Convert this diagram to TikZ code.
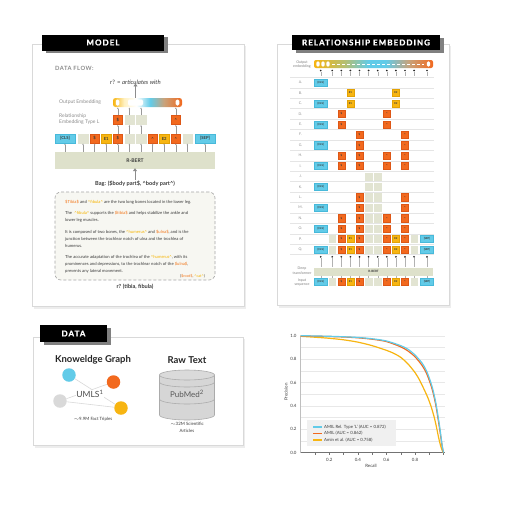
\documentclass[tikz,border=0pt]{standalone}
\usepackage{fontspec}
\setmainfont{Lato}
\usetikzlibrary{arrows.meta,calc}

% palette
\definecolor{cCyan}{HTML}{62CBE8}
\definecolor{cCyanD}{HTML}{47B9DA}
\definecolor{cOrange}{HTML}{F2691E}
\definecolor{cOrangeD}{HTML}{DD5716}
\definecolor{cYellow}{HTML}{F7B512}
\definecolor{cYellowD}{HTML}{E3A205}
\definecolor{cSage}{HTML}{E2E4D2}
\definecolor{cBert}{HTML}{DEE1CB}
\definecolor{cTxt}{HTML}{3A3A3A}
\definecolor{cMuted}{HTML}{8C8C8C}
\definecolor{cFrame}{HTML}{D9D9D9}
\definecolor{cShadow}{HTML}{EDEDED}
\definecolor{cBag}{HTML}{F7F7F2}
\definecolor{cEntO}{HTML}{F2781E}
\definecolor{cEntY}{HTML}{F6B300}
\definecolor{cTan}{HTML}{C9A27A}
\definecolor{cPale}{HTML}{FFF1C2}
\definecolor{cDB}{HTML}{D6D6D6}
\definecolor{cDBd}{HTML}{ABABAB}
\definecolor{cLegend}{HTML}{F0F0F0}
\definecolor{cGrid}{HTML}{E8E8E8}

% embedding bars
\pgfdeclarehorizontalshading{embmodel}{100bp}{color(0bp)=(cYellow); color(25bp)=(cYellow); color(33bp)=(cPale); color(42bp)=(white); color(52bp)=(cCyan); color(62bp)=(cTan); color(75bp)=(cOrange); color(100bp)=(cOrange)}
\pgfdeclarehorizontalshading{embgrid}{100bp}{color(0bp)=(cYellow); color(25bp)=(cYellow); color(38bp)=(cYellow!55!cCyan); color(48bp)=(cCyan); color(55bp)=(cCyan); color(65bp)=(cTan); color(75bp)=(cOrange); color(100bp)=(cOrange)}

% token captions
\def\txtc{[CLS]}
\def\txts{[SEP]}
\def\txtd{\$}
\def\txth{\textasciicircum}
\def\txte{E1}
\def\txtf{E2}
\def\txtg{}

% marked entities in the bag sentences
\newcommand\entO[1]{\textcolor{cEntO}{\$#1\$}}
\newcommand\entY[1]{\textcolor{cEntY}{\textasciicircum#1\textasciicircum}}

\tikzset{
  panel/.style={draw=cFrame, line width=0.9pt, fill=white},
  panelshadow/.style={fill=cShadow},
  tabshadow/.style={fill=black!50},
  tabbox/.style={fill=black, text=white, inner sep=0pt,
    font=\fontsize{8}{8}\selectfont\bfseries\addfontfeatures{LetterSpace=13,FakeBold=1.3}},
  col-c/.style={fill=cCyan, draw=cCyanD},
  col-s/.style={fill=cCyan, draw=cCyanD},
  col-d/.style={fill=cOrange, draw=cOrangeD},
  col-h/.style={fill=cOrange, draw=cOrangeD},
  col-e/.style={fill=cYellow, draw=cYellowD},
  col-f/.style={fill=cYellow, draw=cYellowD},
  col-g/.style={fill=cSage, draw=cSage},
  tok/.style={draw, line width=0.35pt, minimum width=9.4pt, minimum height=9pt,
    inner sep=0pt, text=cTxt, font=\fontsize{4.2}{4.2}\selectfont\bfseries},
  tok-c/.style={tok, col-c, minimum width=20pt},
  tok-s/.style={tok, col-s, minimum width=20pt},
  tok-d/.style={tok, col-d}, tok-h/.style={tok, col-h},
  tok-e/.style={tok, col-e}, tok-f/.style={tok, col-f},
  tok-g/.style={tok, col-g},
  gtok/.style={draw, line width=0.3pt, minimum width=6.8pt, minimum height=7.2pt,
    inner sep=0pt, text=cTxt, font=\fontsize{2.7}{2.7}\selectfont\bfseries},
  gtok-c/.style={gtok, col-c, minimum width=13pt},
  gtok-s/.style={gtok, col-s, minimum width=13pt},
  gtok-d/.style={gtok, col-d}, gtok-h/.style={gtok, col-h},
  gtok-e/.style={gtok, col-e}, gtok-f/.style={gtok, col-f},
  gtok-g/.style={gtok, col-g},
  flow/.style={draw=black!40, line width=0.3pt, shorten >=0.4pt,
    -{Stealth[length=1.5pt,width=1.5pt]}},
  bigflow/.style={draw=black!45, line width=0.9pt,
    -{Triangle[length=3pt,width=4pt]}},
  sidelab/.style={text=cMuted, inner sep=0pt, font=\fontsize{5}{6.5}\selectfont},
  bodytxt/.style={anchor=west, inner sep=0pt, text=cTxt, font=\fontsize{4.2}{4.2}\selectfont},
  boldlab/.style={inner sep=0pt, text=cTxt, font=\fontsize{5.6}{5.6}\selectfont\bfseries},
  bertbox/.style={fill=cBert, draw=none, text=cTxt, inner sep=0pt},
  pill/.style={fill=white, draw=none, rounded corners=1.4pt, minimum height=6pt, inner sep=0pt},
  rowlab/.style={text=black!45, inner sep=0pt, font=\fontsize{3.6}{3.6}\selectfont},
  gridlab/.style={text=black!50, inner sep=0pt, align=center, font=\fontsize{3.6}{4.3}\selectfont},
  sepline/.style={draw=black!10, line width=0.35pt},
  dotnode/.style={circle, fill=black!85, inner sep=0pt, minimum size=1.9pt},
  stem/.style={draw=black!30, line width=0.3pt},
  kgnode/.style={circle, draw=none, minimum size=13.5pt, inner sep=0pt},
  kgedge/.style={draw=black!15, line width=0.6pt},
  datatitle/.style={inner sep=0pt, text=black!85, font=\fontsize{9.5}{9.5}\selectfont\bfseries},
  datanote/.style={inner sep=0pt, text=cTxt, align=center, font=\fontsize{4.4}{6.5}\selectfont},
  axlab/.style={inner sep=0pt, text=cTxt, font=\fontsize{4.4}{4.4}\selectfont},
  legtxt/.style={anchor=west, inner sep=0pt, text=cTxt, font=\fontsize{4.3}{4.3}\selectfont},
}

\begin{document}
\begin{tikzpicture}[x=1pt,y=-1pt]
\path[use as bounding box, fill=white] (0,0) rectangle (512,512);

%================ MODEL panel ================
\fill[panelshadow] (34,46) rectangle (246,308.5);
\draw[panel] (32,44) rectangle (244,306);
\fill[tabshadow] (45.5,37) rectangle (167.5,53);
\node[tabbox, minimum width=122pt, minimum height=16pt] (tabM) at (103,42.5) {MODEL};

\node[anchor=west, inner sep=0pt, text=black!45,
  font=\fontsize{5.8}{5.8}\selectfont\bfseries\addfontfeatures{LetterSpace=8}] (dflow) at (55,68) {DATA FLOW:};
\node[inner sep=0pt, text=cTxt, font=\fontsize{6}{6}\selectfont] (rq) at (135.5,82) {r? = \textit{articulates with}};

% output embedding bar
\node[shading=embmodel, rounded corners=2.5pt, minimum width=69pt, minimum height=9pt, inner sep=0pt] (outbar) at (147.5,102.5) {};
\node[pill, minimum width=3.6pt] (pm1) at (117.6,102.5) {};
\node[pill, minimum width=15pt] (pm2) at (135.5,102.5) {};
\node[pill, minimum width=3.6pt] (pm3) at (177.5,102.5) {};
\draw[bigflow] (rq.south |- outbar.north) -- ([yshift=1pt]rq.south);

\node[sidelab, anchor=west] (oelab) at (59,102.5) {Output Embedding};
\node[sidelab, anchor=west, align=left] (rellab) at (59,119.3) {Relationship\\Embedding Type L};

% relationship embedding row
\node[tok-d] (rl1) at (117.8,120) {\$};
\node[tok-g] (rl2) at (129.4,120) {};
\node[tok-g] (rl3) at (141,120) {};
\node[tok-h] (rl4) at (175.8,120) {\textasciicircum};

% input tokens
\foreach \i/\x/\t in {1/65/c,2/83/g,3/94.6/d,4/106.2/e,5/117.8/d,6/129.4/g,7/141/g,8/152.6/h,9/164.2/f,10/175.8/h,11/187.4/g,12/205/s}{
  \node[tok-\t] (in\i) at (\x,138.5) {\csname txt\t\endcsname};
}

% encoder
\node[bertbox, minimum width=160pt, minimum height=17pt, font=\fontsize{5}{5}\selectfont\bfseries] (bert) at (135,160.5) {R-BERT};
\foreach \i in {1,...,12}{
  \draw[flow] (in\i.south |- bert.north) -- (in\i.south);
}
\foreach \a/\b in {5/1,6/2,7/3,10/4}{
  \draw[flow] (in\a.north) -- (rl\b.south);
  \draw[flow] (rl\b.north) -- (rl\b.north |- outbar.south);
}

% bag of sentences
\node[boldlab] (bagt) at (135,183.5) {Bag: (\$body part\$, \textasciicircum body part\textasciicircum)};
\draw[bigflow] (bagt.north) -- ([yshift=1pt]bert.south);
\node[draw=black!35, dashed, dash pattern=on 3pt off 2pt, line width=0.6pt, rounded corners=6pt,
  fill=cBag, minimum width=160pt, minimum height=88pt] (bag) at (135,236) {};
\node[bodytxt] (s1) at (65,202) {\entO{Tibia} and \entY{fibula} are the two long bones located in the lower leg.};
\node[bodytxt] (s2) at (65,213) {The \ \entY{fibula} supports the \entO{tibia} and helps stabilize the ankle and};
\node[bodytxt] (s3) at (65,220) {lower leg muscles.};
\node[bodytxt] (s4) at (65,232) {It is composed of two bones, the \entY{humerus} and \entO{ulna}, and is the};
\node[bodytxt] (s5) at (65,239) {junction between the trochlear notch of ulna and the trochlea of};
\node[bodytxt] (s6) at (65,246) {humerus.};
\node[bodytxt] (s7) at (65,257.5) {The accurate adaptation of the trochlea of the \entY{humerus}, with its};
\node[bodytxt] (s8) at (65,264.5) {prominences and depressions, to the trochlear notch of the \entO{ulna},};
\node[bodytxt] (s9) at (65,271.5) {prevents any lateral movement.};
\node[bodytxt, anchor=east, font=\fontsize{3.8}{3.8}\selectfont] (s10) at (205,276.5) {(\entO{root}, \entY{cat})};
\node[boldlab] (rans) at (135,286.5) {r? (tibia, fibula)};

%================ RELATIONSHIP EMBEDDING panel ================
\fill[panelshadow] (279,46) rectangle (451,307.5);
\draw[panel] (277,44) rectangle (449,305);
\fill[tabshadow] (295.5,37.5) rectangle (443.5,53);
\node[tabbox, minimum width=148pt, minimum height=15.5pt] (tabR) at (366,42.5) {RELATIONSHIP EMBEDDING};

\def\colx{{320.7,332.2,341.3,350.4,359.5,368.6,377.7,386.8,395.9,405.0,414.1,427.0}}

\node[gridlab] (oelabg) at (302,64.3) {Output\\embedding};
\node[shading=embgrid, rounded corners=2pt, minimum width=119pt, minimum height=8pt, inner sep=0pt] (gbar) at (373.5,64) {};
\draw[white, line width=0.7pt, dash pattern=on 3pt off 2pt] (gbar.center -| 332,0) -- (gbar.center -| 424,0);
\foreach \x/\w [count=\k] in {318/3.4,323/3.4,328/3.4,428.5/3.4}{
  \node[pill, minimum width=\w pt, minimum height=5.2pt] (gp\k) at (\x,64) {};
}

% column ticks under the embedding
\foreach \c in {1,...,12}{
  \pgfmathsetmacro\cx{\colx[\c-1]}
  \node[dotnode] (td\c) at (\cx,70.5) {};
  \coordinate (te\c) at (\cx,76);
  \draw[stem] (td\c) -- (te\c);
}

% row separators
\foreach \y in {77.4,87.8,98.2,108.6,119.1,129.5,139.9,150.3,160.7,171.2,181.6,192.0,202.4,212.8,223.3,233.7,244.1,254.5}{
  \draw[sepline] (290,\y) -- (434,\y);
}

% rows
\foreach \rw/\ry/\toks in {
  A/82.6/{1/c},
  B/93.0/{4/e,9/f},
  C/103.4/{1/c,4/e,9/f},
  D/113.9/{3/d,8/h},
  E/124.3/{1/c,3/d,8/h},
  F/134.7/{5/d,10/h},
  G/145.1/{1/c,5/d,10/h},
  H/155.5/{3/d,5/d,8/h,10/h},
  I/166.0/{1/c,3/d,5/d,8/h,10/h},
  J/176.4/{6/g,7/g},
  K/186.8/{1/c,6/g,7/g},
  L/197.2/{5/d,6/g,7/g,10/h},
  M/207.6/{1/c,5/d,6/g,7/g,10/h},
  N/218.1/{3/d,5/d,6/g,7/g,8/h,10/h},
  O/228.5/{1/c,3/d,5/d,6/g,7/g,8/h,10/h},
  P/238.9/{2/g,3/d,4/e,5/d,6/g,7/g,8/h,9/f,10/h,11/g,12/s},
  Q/249.3/{1/c,2/g,3/d,4/e,5/d,6/g,7/g,8/h,9/f,10/h,11/g,12/s}}{
  \node[rowlab] (lab\rw) at (300.5,\ry) {\rw.};
  \foreach \c/\t in \toks {
    \pgfmathsetmacro\cx{\colx[\c-1]}
    \node[gtok-\t] (g\rw\c) at (\cx,\ry) {\csname txt\t\endcsname};
  }
}

% encoder and input sequence
\node[bertbox, minimum width=119pt, minimum height=8pt, font=\fontsize{3}{3}\selectfont\bfseries] (gbert) at (373.5,271.5) {R-BERT};
\node[gridlab] (dtlab) at (302,270.8) {Deep\\transformer};
\node[gridlab] (islab) at (302,282.2) {Input\\sequence};
\foreach \c/\t in {1/c,2/g,3/d,4/e,5/d,6/g,7/g,8/h,9/f,10/h,11/g,12/s}{
  \pgfmathsetmacro\cx{\colx[\c-1]}
  \node[gtok-\t] (gin\c) at (\cx,281.8) {\csname txt\t\endcsname};
  \node[dotnode] (bd\c) at (\cx,256.8) {};
  \draw[stem] (bd\c) -- (bd\c |- gbert.north);
  \draw[stem] (gin\c.north |- gbert.south) -- (gin\c.north);
}

%================ DATA panel ================
\fill[panelshadow] (35,339) rectangle (245,447.5);
\draw[panel] (33,337) rectangle (243,445);
\fill[tabshadow] (43.5,327.5) rectangle (110.5,344.5);
\node[tabbox, minimum width=67pt, minimum height=16.5pt] (tabD) at (73.5,333.5) {DATA};

\node[datatitle] (kgt) at (93,360) {Knoweldge Graph};
\node[datatitle] (rtt) at (187,360) {Raw Text};

\node[kgnode, fill=cCyan] (kc) at (69,375) {};
\node[kgnode, fill=cOrange] (ko) at (113.5,382) {};
\node[kgnode, fill=black!15] (kg) at (60,401) {};
\node[kgnode, fill=cYellow] (ky) at (121,408) {};
\draw[kgedge] (kc) -- (ky);
\draw[kgedge] (kg) -- (ko);
\draw[kgedge] (kg) -- (ky);
\node[inner sep=0.5pt, fill=white, text=black!70, font=\fontsize{8.5}{8.5}\selectfont] (umls) at (90,394) {UMLS\textsuperscript{1}};
\node[datanote] (kgn) at (93,419) {$\sim$9.9M Fact Triples};

% database drum
\filldraw[fill=cDB, draw=cDBd, line width=0.6pt]
  (159.5,375) -- (159.5,415) arc[start angle=180, end angle=0, x radius=27.5, y radius=5]
  -- (214.5,375) -- cycle;
\filldraw[fill=cDB!90!white, draw=cDBd, line width=0.6pt] (187,375) ellipse [x radius=27.5, y radius=5];
\draw[cDBd, line width=0.6pt] (159.5,382) arc[start angle=180, end angle=0, x radius=27.5, y radius=5];
\draw[cDBd, line width=0.6pt] (159.5,399) arc[start angle=180, end angle=0, x radius=27.5, y radius=5];
\node[inner sep=0pt, text=black!65, font=\fontsize{8}{8}\selectfont] (pubmed) at (187,394) {PubMed\textsuperscript{2}};
\node[datanote] (ptn) at (187,427.5) {$\sim$32M Scientific\\Articles};

%================ precision / recall chart ================
\begin{scope}[shift={(300.7,452.7)}, x=142.9pt, y=117pt]
  \foreach \p in {0.1,0.2,0.3,0.4,0.5,0.6,0.7,0.8,0.9,1.0}{
    \draw[cGrid, line width=0.4pt] (0,\p) -- (1.01,\p);
  }
  \draw[black!25, line width=1.3pt] (0,0) -- (0,1.0);
  \draw[black!55, line width=0.5pt] (0,0) -- (1.01,0);
  \foreach \r in {0.1,0.2,0.3,0.4,0.5,0.6,0.7,0.8,0.9,1.0}{
    \draw[black!55, line width=0.4pt] (\r,0) -- (\r,-0.018);
  }
  \foreach \p [count=\i] in {0.0,0.2,0.4,0.6,0.8,1.0}{
    \node[axlab, anchor=east] (yl\i) at (-0.028,\p) {\p};
  }
  \foreach \r [count=\i] in {0.2,0.4,0.6,0.8}{
    \node[axlab] (xl\i) at (\r,-0.065) {\r};
  }
  % Amin et al.
  \draw[cYellow, line width=1.2pt, line join=round] plot[smooth, tension=0.45] coordinates {
    (0,0.995) (0.1,0.987) (0.2,0.978) (0.3,0.965) (0.4,0.945) (0.5,0.915) (0.6,0.875)
    (0.65,0.85) (0.7,0.815) (0.75,0.76) (0.8,0.685) (0.83,0.625) (0.86,0.55) (0.89,0.47)
    (0.915,0.385) (0.935,0.3) (0.95,0.22) (0.965,0.13) (0.98,0.055) (0.992,0.015) (1.0,0.0)};
  % AMIL
  \draw[cOrange, line width=1.2pt, line join=round] plot[smooth, tension=0.45] coordinates {
    (0,0.998) (0.1,0.996) (0.2,0.993) (0.3,0.989) (0.4,0.982) (0.5,0.97) (0.6,0.95)
    (0.7,0.905) (0.75,0.87) (0.8,0.82) (0.85,0.745) (0.88,0.68) (0.905,0.6) (0.925,0.52)
    (0.945,0.41) (0.96,0.3) (0.975,0.18) (0.988,0.07) (0.996,0.015) (1.0,0.0)};
  % AMIL with relation type
  \draw[cCyan, line width=1.2pt, line join=round] plot[smooth, tension=0.45] coordinates {
    (0,1.0) (0.1,0.998) (0.2,0.995) (0.3,0.991) (0.4,0.985) (0.5,0.974) (0.6,0.955)
    (0.7,0.915) (0.75,0.885) (0.8,0.835) (0.85,0.765) (0.88,0.7) (0.905,0.62) (0.925,0.54)
    (0.945,0.43) (0.96,0.32) (0.975,0.2) (0.988,0.08) (0.996,0.02) (1.0,0.0)};
\end{scope}
\node[axlab, rotate=90] (precl) at (286,392) {Precision};
\node[axlab] (recl) at (371,465.5) {Recall};

% legend
\node[fill=cLegend, minimum width=89pt, minimum height=26pt, inner sep=0pt] (leg) at (351.5,433) {};
\foreach \c/\y/\txt [count=\i] in {cCyan/427/{AMIL Rel. Type `L' (AUC = 0.872)},cOrange/433.5/{AMIL (AUC = 0.862)},cYellow/440/{Amin et al. (AUC = 0.758)}}{
  \coordinate (la\i) at (313,\y);
  \coordinate (lb\i) at (321.5,\y);
  \draw[\c, line width=1.2pt] (la\i) -- (lb\i);
  \node[legtxt] (lt\i) at (324,\y) {\txt};
}
\end{tikzpicture}
\end{document}
